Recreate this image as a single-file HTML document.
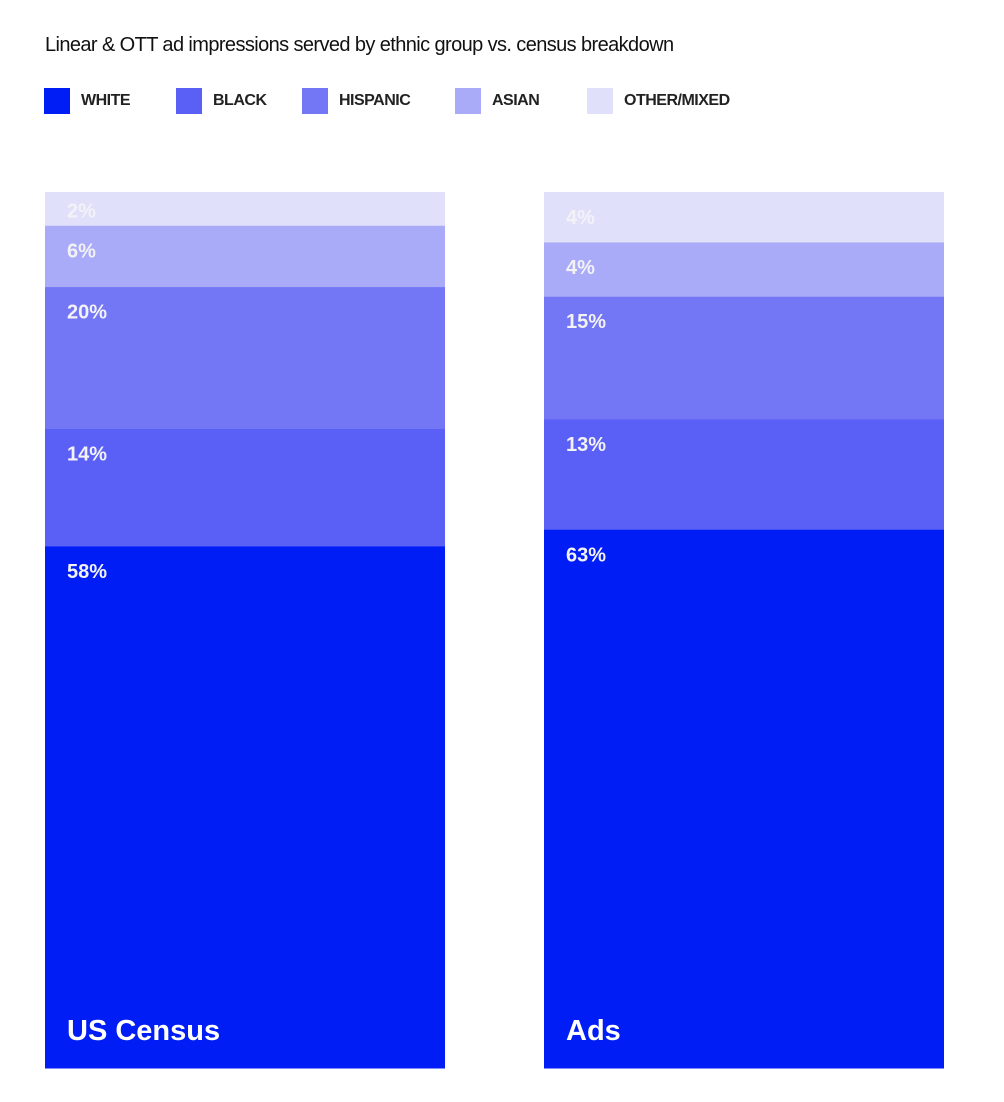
<!DOCTYPE html>
<html><head><meta charset="utf-8"><style>
body{margin:0;background:#fff;width:1004px;height:1102px;overflow:hidden;font-family:"Liberation Sans",sans-serif}
.title{position:absolute;left:45px;top:34px;font-size:20px;letter-spacing:-0.6px;color:#111}
.leg{position:absolute;top:88px;height:26px;display:flex;align-items:center}
.leg .sw{width:26px;height:26px;margin-right:11px}
.leg span{font-size:16px;font-weight:bold;color:#222;letter-spacing:-0.5px}
</style></head><body>
<div class="title">Linear &amp; OTT ad impressions served by ethnic group vs. census breakdown</div>
<div id="legend"></div>
<svg id="chart" width="1004" height="1102" style="position:absolute;left:0;top:0"></svg>
<script>
const categories=["WHITE","BLACK","HISPANIC","ASIAN","OTHER/MIXED"];
const colors=["#001df5","#5a5ff5","#7376f5","#a9aaf8","#e0e0fa"];
const bars=["US Census","Ads"];
const censusValues=[59.6,13.4,16.2,7.0,3.8];
const adsValues=[61.5,12.6,14.0,6.2,5.7];
const censusLabels=["58%","14%","20%","6%","2%"];
const adsLabels=["63%","13%","15%","4%","4%"];
const legendX=[44,176,302,455,587];
const series=[censusValues,adsValues], labels=[censusLabels,adsLabels];
const NS="http://www.w3.org/2000/svg";
const svg=document.getElementById('chart');
const top0=192,bottom=1068,H=bottom-top0,barW=400,barX=[45,544];
const lg=document.getElementById('legend');
categories.forEach((c,i)=>{
 const d=document.createElement('div');d.className='leg';d.style.left=legendX[i]+'px';
 
 
 d.innerHTML='<div class="sw" style="background:'+colors[i]+'"></div><span>'+c+'</span>';
 lg.appendChild(d);
});
series.forEach((vals,b)=>{
 const total=vals.reduce((a,v)=>a+v,0);
 let y=bottom;
 vals.forEach((v,i)=>{
  const h=v/total*H; y-=h;
  const r=document.createElementNS(NS,'rect');
  r.setAttribute('x',barX[b]);r.setAttribute('y',y);r.setAttribute('width',barW);r.setAttribute('height',h+0.5);
  r.setAttribute('fill',colors[i]);
  
  
  svg.appendChild(r);
  const t=document.createElementNS(NS,'text');
  t.setAttribute('x',barX[b]+22);t.setAttribute('y',y+Math.min(32,h-8));
  t.setAttribute('fill','#f2f2f7');t.setAttribute('font-size','20');t.setAttribute('font-weight','bold');
  t.setAttribute('font-family','Liberation Sans, sans-serif');
  t.textContent=labels[b][i];
  
  
  svg.appendChild(t);
 });
 const n=document.createElementNS(NS,'text');
 n.setAttribute('x',barX[b]+22);n.setAttribute('y',1040);n.setAttribute('fill','#fff');
 n.setAttribute('font-size','29');n.setAttribute('font-weight','bold');n.setAttribute('font-family','Liberation Sans, sans-serif');
 n.textContent=bars[b];
 
 
 svg.appendChild(n);
});
</script>
</body></html>
